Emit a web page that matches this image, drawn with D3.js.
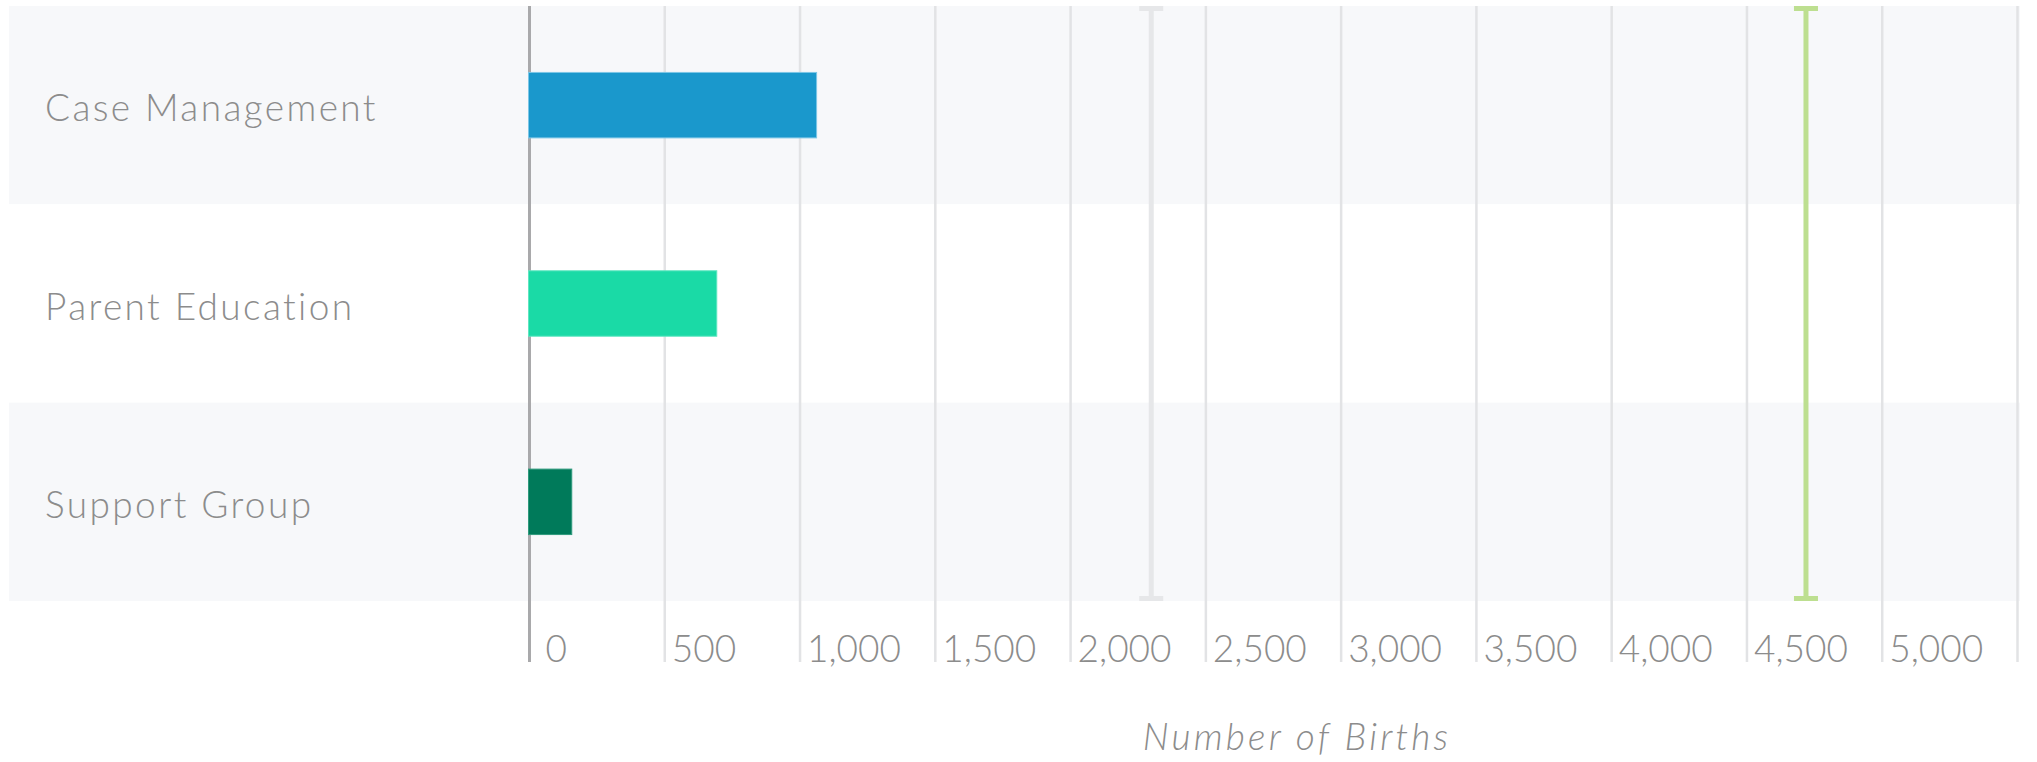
<!DOCTYPE html>
<html>
<head>
<meta charset="utf-8">
<script src="https://cdn.jsdelivr.net/npm/d3@7/dist/d3.min.js"></script>
<style>
  html, body { margin: 0; padding: 0; background: #ffffff; }
  svg { display: block; }
  text { font-family: Lato, "Open Sans", sans-serif; font-weight: 300; fill: #8c8c8c; }
</style>
</head>
<body>
<svg id="chart" width="2037" height="762"></svg>
<script>
// ---- data ----
const categories = ["Case Management", "Parent Education", "Support Group"];
const values = [1063, 694, 158];
const barColors = ["#1a98cc", "#1adaa6", "#007a5a"];
const barStroke = ["#7cc6e6", "#5fe6c1", "#2f9a7c"];
const refValues = [2300, 4720];
const refColors = ["#e6e7e9", "#bddf90"];
const tickValues = [0, 500, 1000, 1500, 2000, 2500, 3000, 3500, 4000, 4500, 5000, 5500];
const tickLabels = ["0", "500", "1,000", "1,500", "2,000", "2,500", "3,000", "3,500", "4,000", "4,500", "5,000", ""];
const axisTitle = "Number of Births";

// ---- layout ----
const svg = d3.select("#chart");
const plotTop = 6, plotBottom = 601;
const bandLeft = 9, bandRight = 2020;
const x = d3.scaleLinear().domain([0, 5500]).range([529, 2017]);
const y = d3.scaleBand().domain(categories).range([plotTop, plotBottom]).paddingInner(0).paddingOuter(0);
const barPad = 0.33; // fraction of band used by bar

// background bands
svg.append("g").selectAll("rect").data(categories).join("rect")
  .attr("x", bandLeft).attr("width", bandRight - bandLeft)
  .attr("y", d => y(d)).attr("height", y.bandwidth())
  .attr("fill", (d, i) => i % 2 === 0 ? "#f7f8fa" : "#ffffff");

// gridlines + tick labels via d3 axis
const axis = d3.axisBottom(x).tickValues(tickValues)
  .tickFormat((d, i) => tickLabels[i]).tickSize(0);
const gAxis = svg.append("g").attr("transform", `translate(0,${plotBottom})`).call(axis);
gAxis.select(".domain").remove();
gAxis.selectAll(".tick line")
  .attr("y1", -(plotBottom - plotTop)).attr("y2", 61)
  .attr("stroke", d => d === 0 ? "#a9a9ab" : "#e2e3e5")
  .attr("stroke-width", d => d === 0 ? 3 : 2.5);
gAxis.selectAll(".tick text")
  .attr("text-anchor", "start")
  .attr("x", d => d === 0 ? 16 : 7).attr("y", 61).attr("dy", 0)
  .style("font-size", "37px")
  .style("font-family", "Lato, 'Open Sans', sans-serif")
  .style("font-weight", 300)
  .attr("fill", "#8c8c8c");

// bars
const bh = y.bandwidth() * barPad;
svg.append("g").selectAll("rect").data(categories).join("rect")
  .attr("x", x(0) - 0.5)
  .attr("y", d => y(d) + (y.bandwidth() - bh) / 2)
  .attr("width", (d, i) => x(values[i]) - x(0) + 0.5)
  .attr("height", bh)
  .attr("fill", (d, i) => barColors[i])
  .attr("stroke", (d, i) => barStroke[i])
  .attr("stroke-width", 1);

// reference lines with caps
const refs = svg.append("g").selectAll("g").data(refValues).join("g");
refs.append("line")
  .attr("x1", d => x(d)).attr("x2", d => x(d))
  .attr("y1", plotTop).attr("y2", plotBottom)
  .attr("stroke", (d, i) => refColors[i]).attr("stroke-width", 5);
refs.append("rect")
  .attr("x", d => x(d) - 12).attr("width", 24)
  .attr("y", plotTop).attr("height", 5)
  .attr("fill", (d, i) => refColors[i]);
refs.append("rect")
  .attr("x", d => x(d) - 12).attr("width", 24)
  .attr("y", plotBottom - 5).attr("height", 5)
  .attr("fill", (d, i) => refColors[i]);

// category labels
svg.append("g").selectAll("text").data(categories).join("text")
  .attr("x", 45)
  .attr("y", d => y(d) + y.bandwidth() / 2 + 16)
  .style("font-size", "37px")
  .style("letter-spacing", "2.4px")
  .text(d => d);

// axis title
svg.append("text")
  .attr("x", 1297).attr("y", 750)
  .attr("text-anchor", "middle")
  .style("font-size", "37px")
  .style("font-style", "italic")
  .style("letter-spacing", "3.2px")
  .text(axisTitle);
</script>
</body>
</html>
